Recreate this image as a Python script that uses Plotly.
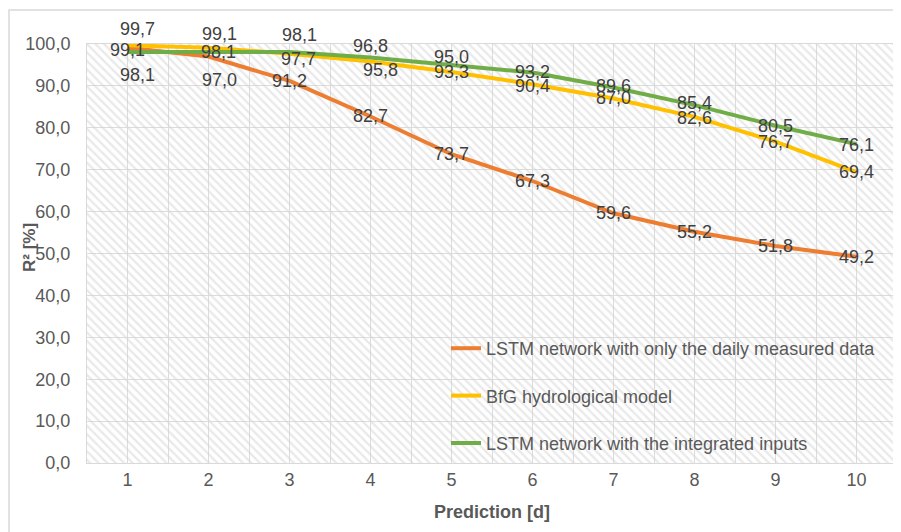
import plotly.graph_objects as go

days = [1, 2, 3, 4, 5, 6, 7, 8, 9, 10]
day_labels = [str(d) for d in days]

lstm_daily = [99.1, 97.0, 91.2, 82.7, 73.7, 67.3, 59.6, 55.2, 51.8, 49.2]
bfg_model = [99.7, 99.1, 97.7, 95.8, 93.3, 90.4, 87.0, 82.6, 76.7, 69.4]
lstm_integrated = [98.1, 98.1, 98.1, 96.8, 95.0, 93.2, 89.6, 85.4, 80.5, 76.1]

series_names = [
    "LSTM network with only the daily measured data",
    "BfG hydrological model",
    "LSTM network with the integrated inputs",
]
series_values = [lstm_daily, bfg_model, lstm_integrated]
series_colors = ["#ED7D31", "#FFC000", "#70AD47"]

y_ticks = [0, 10, 20, 30, 40, 50, 60, 70, 80, 90, 100]
y_tick_labels = ["0,0", "10,0", "20,0", "30,0", "40,0", "50,0", "60,0", "70,0", "80,0", "90,0", "100,0"]

# label offsets (pixels) for the data labels, per series
label_xshift = [
    [0, 11, 0, 0, 0, 0, 0, 0, 0, 0],
    [10, 11, 9, 10, 0, 0, 0, 0, 0, 0],
    [10, 10, 10, 0, 0, 0, 0, 0, 0, 0],
]
label_yshift = [
    [-2, -23, 0, 0, 0, 0, 0, 0, 0, 0],
    [16, 14, -5, -8, 0, -2, 0, -1, 0, 0],
    [-23, 0, 17, 11, 8, 0, 2, 2, 0, -1],
]

FONT = "Liberation Sans, Arial, sans-serif"

fig = go.Figure()

# hatched plot-area background
fig.add_trace(go.Bar(
    x=[sum(days) / len(days)], y=[max(y_ticks)], width=[len(days)],
    marker=dict(color="rgba(0,0,0,0)", line=dict(width=0),
                pattern=dict(shape="\\", fgcolor="#d3d3d3", bgcolor="rgba(0,0,0,0)",
                             size=6, solidity=0.38)),
    showlegend=False, hoverinfo="skip",
))

for name, vals, col in zip(series_names, series_values, series_colors):
    fig.add_trace(go.Scatter(
        x=days, y=vals, mode="lines", name=name, legendgroup=name,
        line=dict(color=col, width=4),
    ))

annotations = []
for vals, xs, ys in zip(series_values, label_xshift, label_yshift):
    for d, v, dx, dy in zip(days, vals, xs, ys):
        annotations.append(dict(
            x=d, y=v, text=f"{v:.1f}".replace(".", ","), showarrow=False,
            xshift=dx, yshift=dy, xanchor="center", yanchor="middle",
            font=dict(family=FONT, size=18, color="#404040"),
        ))

# y axis title
annotations.append(dict(
    xref="paper", yref="paper", x=(29 - 87) / 810, y=(463 - 248) / 419,
    xanchor="center", yanchor="middle",
    text="<b>R² [%]</b>", textangle=-90, showarrow=False,
    font=dict(family=FONT, size=17, color="#595959"),
))

fig.update_layout(
    width=901, height=532,
    margin=dict(l=79, r=12, t=36, b=77),
    paper_bgcolor="white", plot_bgcolor="white",
    font=dict(family=FONT, size=18, color="#595959"),
    showlegend=True,
    legend=dict(x=(446 - 87) / 810, y=(463 - 330) / 419, xanchor="left", yanchor="top",
                bgcolor="rgba(0,0,0,0)", tracegroupgap=21,
                font=dict(size=18, color="#595959")),
    annotations=annotations,
    shapes=[dict(type="rect", xref="paper", yref="paper",
                 x0=(9 - 87) / 810, x1=1.2, y0=-0.5, y1=1 + (44 - 10) / 419,
                 line=dict(color="#d9d9d9", width=1.5), layer="below")],
    bargap=0,
)

fig.update_xaxes(
    range=[0.5, 10.5], tickmode="array", tickvals=days, ticktext=day_labels,
    showgrid=True, gridcolor="#dcdcdc", gridwidth=1,
    minor=dict(tickmode="array", tickvals=[d - 0.5 for d in days] + [days[-1] + 0.5],
               showgrid=True, gridcolor="#dcdcdc", gridwidth=1),
    showline=True, mirror=True, linecolor="#d9d9d9", linewidth=1,
    zeroline=False, ticks="",
    tickfont=dict(family=FONT, size=18, color="#595959"),
    title=dict(text="<b>Prediction [d]</b>", standoff=16,
               font=dict(family=FONT, size=18, color="#595959")),
)

fig.update_yaxes(
    range=[0, 100], tickmode="array", tickvals=y_ticks, ticktext=y_tick_labels,
    showgrid=True, gridcolor="#dcdcdc", gridwidth=1,
    showline=True, mirror=True, linecolor="#d9d9d9", linewidth=1,
    zeroline=False, ticks="", ticklabelstandoff=12,
    tickfont=dict(size=18, color="#595959"),
)

fig.write_html("out.html")
